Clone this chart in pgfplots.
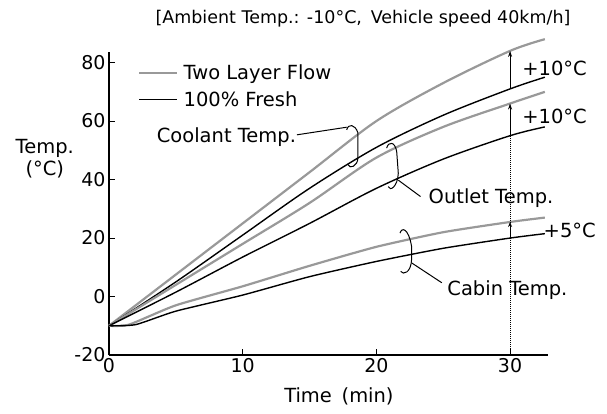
\documentclass[border=0pt]{standalone}
\usepackage{fontspec}
\setmainfont{DejaVu Sans}
\usepackage{pgfplots}
\pgfplotsset{compat=1.18}
\usetikzlibrary{arrows.meta}

\begin{document}
\begin{tikzpicture}[font=\fontsize{19.5}{22}\selectfont]
\begin{axis}[
  scale only axis, width=439pt, height=303pt,
  xmin=0, xmax=32.8, ymin=-20, ymax=83.5,
  axis lines=left, axis line style={-, line width=1.3pt},
  tick align=inside, major tick length=6pt,
  tick style={line width=1.1pt, black},
  xtick={0,10,20,30}, ytick={-20,0,20,40,60,80},
  /pgf/number format/assume math mode=true,
  tick label style={font=\fontsize{19}{22}\selectfont},
  clip=false,
  legend style={at={(axis cs:2.1,80.2)}, anchor=north west, draw=none, fill=none,
    font=\fontsize{19.5}{22}\selectfont, row sep=6pt, inner sep=1pt},
  legend cell align=left,
  legend image code/.code={\draw[#1] (0pt,0pt) -- (38pt,0pt);},
]
% Two layer flow (gray) / 100% fresh (black)
\addplot[black!40, line width=2.2pt, smooth] coordinates {(0,-10) (5,7.5) (10,25) (15,42.5) (20,60) (25,73) (30,84) (32.6,88)};
\addlegendentry{\,Two Layer Flow}
\addplot[black, line width=1.4pt, smooth] coordinates {(0,-10) (5,5) (10,21) (15,37) (20,51) (25,62) (30,71) (32.6,75)};
\addlegendentry{\,100\% Fresh}
\addplot[black!40, line width=2.2pt, smooth, forget plot] coordinates {(0,-10) (5,4) (10,18) (15,32) (20,47.5) (25,58) (30,66) (32.6,70)};
\addplot[black, line width=1.4pt, smooth, forget plot] coordinates {(0,-10) (5,1.5) (10,13.5) (15,25) (20,37) (25,47) (30,55) (32.6,58)};
\addplot[black!40, line width=2.2pt, smooth, tension=0.35, forget plot] coordinates {(0,-10) (1.5,-9.6) (5,-3) (10,3.5) (15,10.5) (20,17) (25,22) (30,25.5) (32.6,27)};
\addplot[black, line width=1.4pt, smooth, tension=0.35, forget plot] coordinates {(0,-10) (2,-9.6) (5,-5) (10,0.5) (15,6.8) (20,12) (25,16.5) (30,20) (32.6,21.5)};

% difference markers at 30 min
\draw[densely dotted, line width=1pt] (axis cs:30,-20) -- (axis cs:30,55);
\draw[line width=1pt, -{Stealth[length=6pt,width=4pt]}] (axis cs:30,71) -- (axis cs:30,84);
\draw[line width=1pt, -{Stealth[length=6pt,width=4pt]}] (axis cs:30,55) -- (axis cs:30,66);
\draw[line width=1pt, -{Stealth[length=5pt,width=4pt]}] (axis cs:30,20) -- (axis cs:30,25.5);
\node[anchor=west, inner sep=0pt] at (axis cs:30.9,78) {+10°C};
\node[anchor=west, inner sep=0pt] at (axis cs:30.9,61.5) {+10°C};
\node[anchor=west, inner sep=0pt] at (axis cs:32.5,22.5) {+5°C};

% brackets and leaders
\draw[line width=1pt] (axis cs:17.78,57.0) .. controls (axis cs:17.9,59.2) and (axis cs:18.4,59.0) .. (axis cs:18.62,56.0)
  -- (axis cs:18.62,47.4) .. controls (axis cs:18.6,44.5) and (axis cs:18.0,43.5) .. (axis cs:17.88,45.1);
\draw[line width=1pt] (axis cs:14.06,55.3) -- (axis cs:17.78,57.9);
\node[anchor=east, inner sep=0pt] at (axis cs:14.0,54.5) {Coolant Temp.};

\draw[line width=1pt] (axis cs:20.77,50.75) .. controls (axis cs:20.9,53.2) and (axis cs:21.4,53.0) .. (axis cs:21.52,49.6)
  -- (axis cs:21.64,42.2) .. controls (axis cs:21.6,37.5) and (axis cs:21.0,35.8) .. (axis cs:20.89,37.6);
\draw[line width=1pt] (axis cs:21.64,39.8) -- (axis cs:23.3,34.2);
\node[anchor=west, inner sep=0pt] at (axis cs:23.9,33.8) {Outlet Temp.};

\draw[line width=1pt] (axis cs:21.77,21.7) .. controls (axis cs:21.9,23.8) and (axis cs:22.4,23.5) .. (axis cs:22.64,17.0)
  -- (axis cs:22.64,12.9) .. controls (axis cs:22.6,8.0) and (axis cs:22.0,7.3) .. (axis cs:21.82,8.6);
\draw[line width=1pt] (axis cs:22.64,11.5) -- (axis cs:24.9,4.7);
\node[anchor=west, inner sep=0pt] at (axis cs:25.3,2.2) {Cabin Temp.};

% axis titles and header
\node[align=center, inner sep=0pt] at (axis cs:-4.8,47) {Temp.\\(°C)};
\node[inner sep=0pt] at (axis cs:17.2,-34.3) {Time\enspace(min)};
\node[inner sep=0pt, font=\fontsize{17.5}{20}\selectfont] at (axis cs:19,95) {[Ambient Temp.: -10°C,\enspace Vehicle speed 40km/h]};

\coordinate (bl) at (axis cs:-8.15,-39.9);
\coordinate (tr) at (axis cs:37.25,101.4);
\end{axis}
\path (bl) rectangle (tr);
\end{tikzpicture}
\end{document}
